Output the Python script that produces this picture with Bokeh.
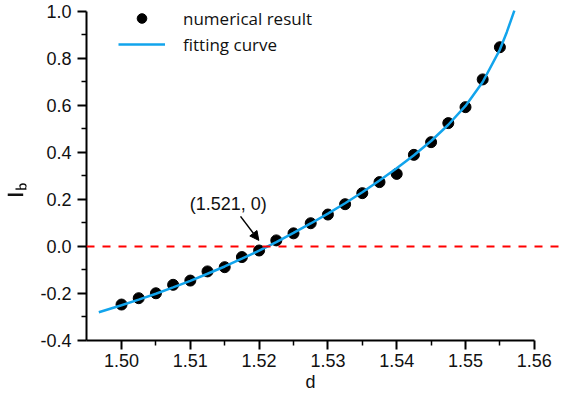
from bokeh.plotting import figure
from bokeh.models import (Range1d, Span, Arrow, NormalHead, Label, Legend,
                          LegendItem, FixedTicker, PrintfTickFormatter)
from bokeh.embed import file_html
from bokeh.resources import INLINE

# ---- data ----
d_num = [1.500, 1.5025, 1.505, 1.5075, 1.510, 1.5125, 1.515, 1.5175, 1.520,
         1.5225, 1.525, 1.5275, 1.530, 1.5325, 1.535, 1.5375, 1.540, 1.5425,
         1.545, 1.5475, 1.550, 1.5525, 1.555]
ib_num = [-0.247, -0.220, -0.199, -0.163, -0.145, -0.106, -0.088, -0.045, -0.017,
          0.026, 0.056, 0.099, 0.136, 0.180, 0.227, 0.274, 0.309, 0.390,
          0.444, 0.525, 0.593, 0.711, 0.848]

d_fit = [1.4967, 1.500, 1.5025, 1.505, 1.5075, 1.510, 1.5125, 1.515, 1.5175,
         1.520, 1.5225, 1.525, 1.5275, 1.530, 1.5325, 1.535, 1.5375, 1.540,
         1.5425, 1.545, 1.5475, 1.550, 1.5525, 1.555, 1.556, 1.5571]
ib_fit = [-0.280, -0.250, -0.226, -0.201, -0.174, -0.146, -0.116, -0.085, -0.052,
          -0.018, 0.019, 0.058, 0.098, 0.140, 0.184, 0.231, 0.281, 0.333,
          0.388, 0.449, 0.518, 0.598, 0.700, 0.838, 0.912, 1.004]

x_ticks = [1.50, 1.51, 1.52, 1.53, 1.54, 1.55, 1.56]
x_minor = [1.505, 1.515, 1.525, 1.535, 1.545, 1.555]
y_ticks = [-0.4, -0.2, 0.0, 0.2, 0.4, 0.6, 0.8, 1.0]
y_minor = [-0.3, -0.1, 0.1, 0.3, 0.5, 0.7, 0.9]

zero_level = 0.0
root_text = "(1.521, 0)"
arrow_start = (1.5173, 0.128)
arrow_end = (1.51996, 0.026)

X0, X1 = 1.49491, 1.56439
Y0, Y1 = -0.4, 1.0468

p = figure(width=564, height=397, output_backend="svg", toolbar_location=None,
           x_range=Range1d(X0, X1), y_range=Range1d(Y0, Y1),
           min_border_left=86, min_border_right=0, min_border_top=0,
           min_border_bottom=57)
p.outline_line_color = None
p.grid.visible = False
p.background_fill_color = "white"
p.border_fill_color = "white"

sc = p.scatter(d_num, ib_num, size=11, color="black")
ln = p.line(d_fit, ib_fit, line_color="#12a4ec", line_width=2.5)

p.add_layout(Span(location=zero_level, dimension="width", line_color="#ff0000",
                  line_dash="8 8", line_width=2))

for ax, ticks, minor, fmt, bnd in ((p.xaxis[0], x_ticks, x_minor, "%.2f", (X0, 1.56)),
                                  (p.yaxis[0], y_ticks, y_minor, "%.1f", (-0.4, 1.0))):
    ax.ticker = FixedTicker(ticks=ticks, minor_ticks=minor)
    ax.formatter = PrintfTickFormatter(format=fmt)
    ax.bounds = bnd
    ax.axis_line_width = 2
    ax.axis_line_color = "black"
    ax.major_tick_out = 9
    ax.major_tick_in = 0
    ax.minor_tick_out = 5
    ax.minor_tick_in = 0
    ax.major_tick_line_width = 2
    ax.minor_tick_line_width = 1.5
    ax.major_tick_line_color = "black"
    ax.minor_tick_line_color = "black"
    ax.major_label_text_font = "Liberation Sans"
    ax.major_label_text_font_size = "18px"
    ax.major_label_text_color = "#111111"
    ax.axis_label_text_font = "Liberation Sans"
    ax.axis_label_text_font_size = "18px"
    ax.axis_label_text_font_style = "normal"
    ax.axis_label_text_color = "#111111"

p.xaxis.major_label_standoff = 4
p.yaxis.major_label_standoff = 6
# trailing no-break spaces move the centred label onto the middle of the axis bounds
p.xaxis.axis_label = "d" + "\u00a0" * 6
p.xaxis.axis_label_standoff = 2
p.yaxis.axis_label = r"$$\mathsf{I_b}\hspace{1.7em}$$"
p.yaxis.axis_label_standoff = 10

p.add_layout(Label(x=1.51551, y=0.18, text=root_text, text_align="center",
                   text_baseline="middle", text_font="Liberation Sans",
                   text_font_size="18px", text_color="#111111"))
p.add_layout(Arrow(x_start=arrow_start[0], y_start=arrow_start[1],
                   x_end=arrow_end[0], y_end=arrow_end[1], line_width=1.5,
                   line_color="black",
                   end=NormalHead(size=9, fill_color="black", line_color="black")))

leg = Legend(items=[LegendItem(label="numerical result", renderers=[sc]),
                    LegendItem(label="fitting curve", renderers=[ln])],
             location=(32, 284), glyph_width=47, glyph_height=24, label_height=24,
             spacing=2, padding=0, margin=0, label_standoff=18,
             label_text_font="Open Sans", label_text_font_size="17px",
             label_text_color="#111111", border_line_color=None,
             background_fill_alpha=0)
p.add_layout(leg)

open("out.html", "w").write(file_html(p, INLINE))
